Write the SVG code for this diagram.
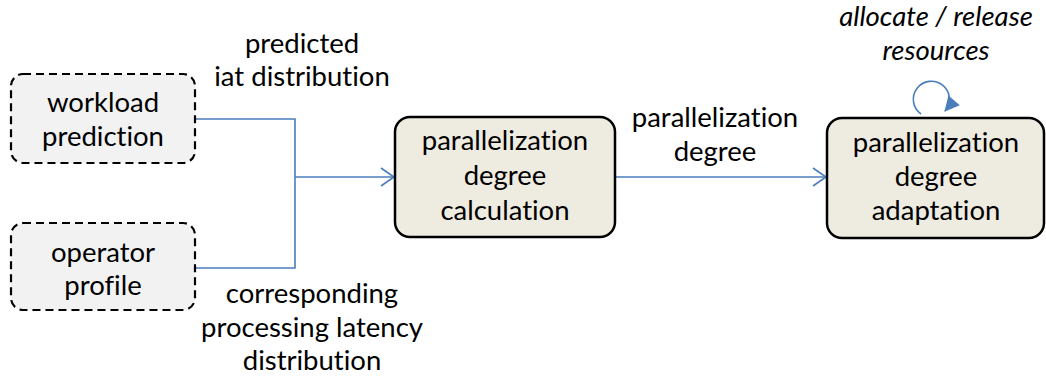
<svg xmlns="http://www.w3.org/2000/svg" width="1046" height="385" viewBox="0 0 1046 385">
  <defs>
    <marker id="open-arrow" markerUnits="userSpaceOnUse" markerWidth="20" markerHeight="24" viewBox="-16 -12 20 24" refX="0" refY="0" orient="auto">
      <path d="M-13,-9 L0,0 L-13,9" fill="none" stroke="#4a7ebb" stroke-width="1.6"/>
    </marker>
    <marker id="solid-arrow" markerUnits="userSpaceOnUse" markerWidth="22" markerHeight="22" viewBox="-16 -11 22 22" refX="0" refY="0" orient="auto">
      <path d="M-14,-7.5 L1,0 L-14,7.5 Z" fill="#4a7ebb"/>
    </marker>
  </defs>
  <style>
    .txt { font-family: Lato, "Liberation Sans", sans-serif; font-size: 27.5px; fill: #000; text-anchor: middle; font-variant-ligatures: none; font-feature-settings: "liga" 0; }
    .it { font-style: italic; }
    .input { fill: #f2f2f2; stroke: #000; stroke-width: 2.2; stroke-dasharray: 8 5; }
    .step { fill: #eeece1; stroke: #000; stroke-width: 2.5; }
    .wire { fill: none; stroke: #4a7ebb; stroke-width: 1.6; }
  </style>

  <g id="connectors">
    <path class="wire" d="M195,119 H295 V268 H195"/>
    <path class="wire" d="M295,177 H394" marker-end="url(#open-arrow)"/>
    <path class="wire" d="M615,177 H826" marker-end="url(#open-arrow)"/>
    <path class="wire" d="M921,114 A18,18 0 1 1 945,111" marker-end="url(#solid-arrow)"/>
  </g>

  <g id="workload-prediction">
    <rect class="input" x="11" y="74" width="184" height="89" rx="12"/>
    <text class="txt" x="103" y="112">workload</text>
    <text class="txt" x="103" y="146">prediction</text>
  </g>

  <g id="operator-profile">
    <rect class="input" x="11" y="223" width="184" height="87" rx="12"/>
    <text class="txt" x="103" y="262">operator</text>
    <text class="txt" x="103" y="295">profile</text>
  </g>

  <g id="degree-calculation">
    <rect class="step" x="395" y="117" width="220" height="120" rx="15"/>
    <text class="txt" x="505" y="150">parallelization</text>
    <text class="txt" x="505" y="185">degree</text>
    <text class="txt" x="505" y="220">calculation</text>
  </g>

  <g id="degree-adaptation">
    <rect class="step" x="827" y="118" width="217" height="120" rx="15"/>
    <text class="txt" x="936" y="152">parallelization</text>
    <text class="txt" x="936" y="186">degree</text>
    <text class="txt" x="936" y="220">adaptation</text>
  </g>

  <g id="labels">
    <text class="txt" x="302" y="53">predicted</text>
    <text class="txt" x="302" y="86">iat distribution</text>
    <text class="txt" x="312" y="303">corresponding</text>
    <text class="txt" x="312" y="337">processing latency</text>
    <text class="txt" x="312" y="370">distribution</text>
    <text class="txt" x="715" y="127">parallelization</text>
    <text class="txt" x="715" y="161">degree</text>
    <text class="txt it" x="936" y="26">allocate / release</text>
    <text class="txt it" x="936" y="60">resources</text>
  </g>
</svg>
